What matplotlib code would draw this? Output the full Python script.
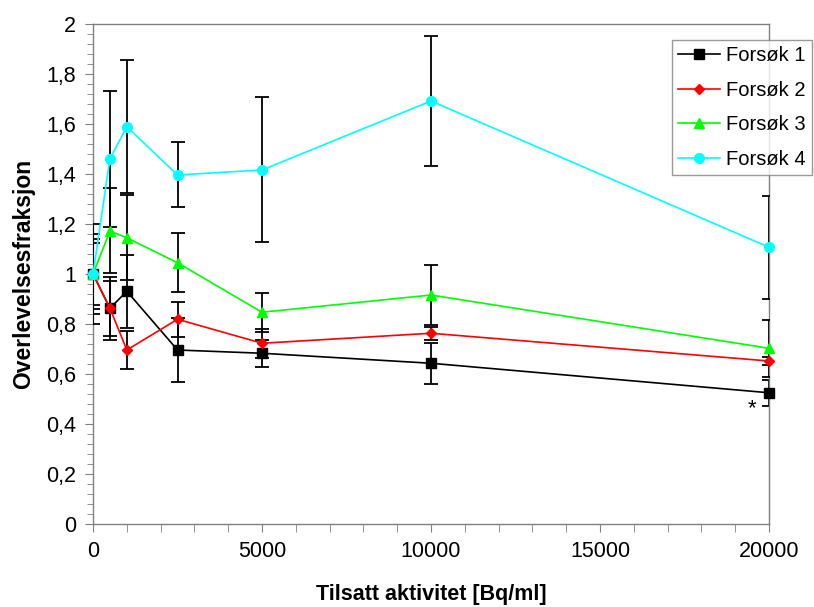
import numpy as np
import matplotlib
matplotlib.use("Agg")
import matplotlib.pyplot as plt
from matplotlib.ticker import MultipleLocator, FixedLocator, FixedFormatter

plt.rcParams["font.family"] = ["Liberation Sans", "DejaVu Sans"]

# data
aktivitet = [0, 500, 1000, 2500, 5000, 10000, 20000]
forsok1 = [1.0, 0.863, 0.931, 0.696, 0.683, 0.643, 0.525]
forsok1_err = [0.14, 0.125, 0.146, 0.127, 0.055, 0.082, 0.053]
forsok2 = [1.0, 0.863, 0.696, 0.819, 0.723, 0.763, 0.652]
forsok2_err = [0.125, 0.11, 0.075, 0.07, 0.057, 0.027, 0.015]
forsok3 = [1.0, 1.172, 1.145, 1.045, 0.847, 0.916, 0.703]
forsok3_err = [0.16, 0.17, 0.17, 0.118, 0.078, 0.12, 0.113]
forsok4 = [1.0, 1.461, 1.589, 1.396, 1.416, 1.692, 1.107]
forsok4_err = [0.2, 0.272, 0.265, 0.13, 0.29, 0.26, 0.205]
names = ["Forsøk 1", "Forsøk 2", "Forsøk 3", "Forsøk 4"]
y_ticks = [0, 0.2, 0.4, 0.6, 0.8, 1.0, 1.2, 1.4, 1.6, 1.8, 2.0]
y_labels = ["0", "0,2", "0,4", "0,6", "0,8", "1", "1,2", "1,4", "1,6", "1,8", "2"]
x_ticks = [0, 5000, 10000, 15000, 20000]

series = [forsok1, forsok2, forsok3, forsok4]
errs = [forsok1_err, forsok2_err, forsok3_err, forsok4_err]
colors = ["#000000", "#ff0000", "#00ff00", "#00ffff"]
markers = ["s", "D", "^", "o"]
msizes = [7, 5.5, 7.5, 7]

fig = plt.figure(figsize=(8.14, 6.07), dpi=100)
ax = fig.add_axes([0.1143, 0.1367, 0.8304, 0.8238])

for i in range(4):
    ax.errorbar(aktivitet, series[i], yerr=errs[i], fmt="none", ecolor="black",
                elinewidth=1.3, capsize=5, capthick=1.3, zorder=2 + i)
for i in range(4):
    ax.plot(aktivitet, series[i], color=colors[i], marker=markers[i], markersize=msizes[i],
            linewidth=1.2, label=names[i], zorder=10 + i, clip_on=False)

ax.text(19500, 0.462, "*", fontsize=16, ha="center", va="center")

ax.set_xlim(0, 20000)
ax.set_ylim(0, 2)
ax.yaxis.set_major_locator(FixedLocator(y_ticks))
ax.yaxis.set_major_formatter(FixedFormatter(y_labels))
ax.yaxis.set_minor_locator(MultipleLocator(0.04))
ax.xaxis.set_major_locator(FixedLocator(x_ticks))
ax.xaxis.set_minor_locator(MultipleLocator(1000))

for s in ax.spines.values():
    s.set_color("#808080")
    s.set_linewidth(1)
ax.tick_params(axis="both", which="both", direction="out", color="#808080", labelsize=15.5)
ax.tick_params(axis="y", which="major", length=6, pad=6)
ax.tick_params(axis="y", which="minor", length=4)
ax.tick_params(axis="x", which="major", length=6, pad=6)
ax.tick_params(axis="x", which="minor", length=6)

ax.set_xlabel("Tilsatt aktivitet [Bq/ml]", fontsize=15.5, fontweight="bold", labelpad=16)
ax.set_ylabel("Overlevelsesfraksjon", fontsize=16.5, fontweight="bold", labelpad=8)

leg = ax.legend(loc="upper left", bbox_to_anchor=(672 / 814, 1 - 40 / 607),
                bbox_transform=fig.transFigure, borderaxespad=0, fontsize=14.5,
                frameon=True, fancybox=False, edgecolor="#808080", handlelength=2.1,
                borderpad=0.3, labelspacing=0.78, handletextpad=0.3)
leg.get_frame().set_linewidth(1)
leg.set_zorder(20)

fig.savefig("out.png", dpi=100)
